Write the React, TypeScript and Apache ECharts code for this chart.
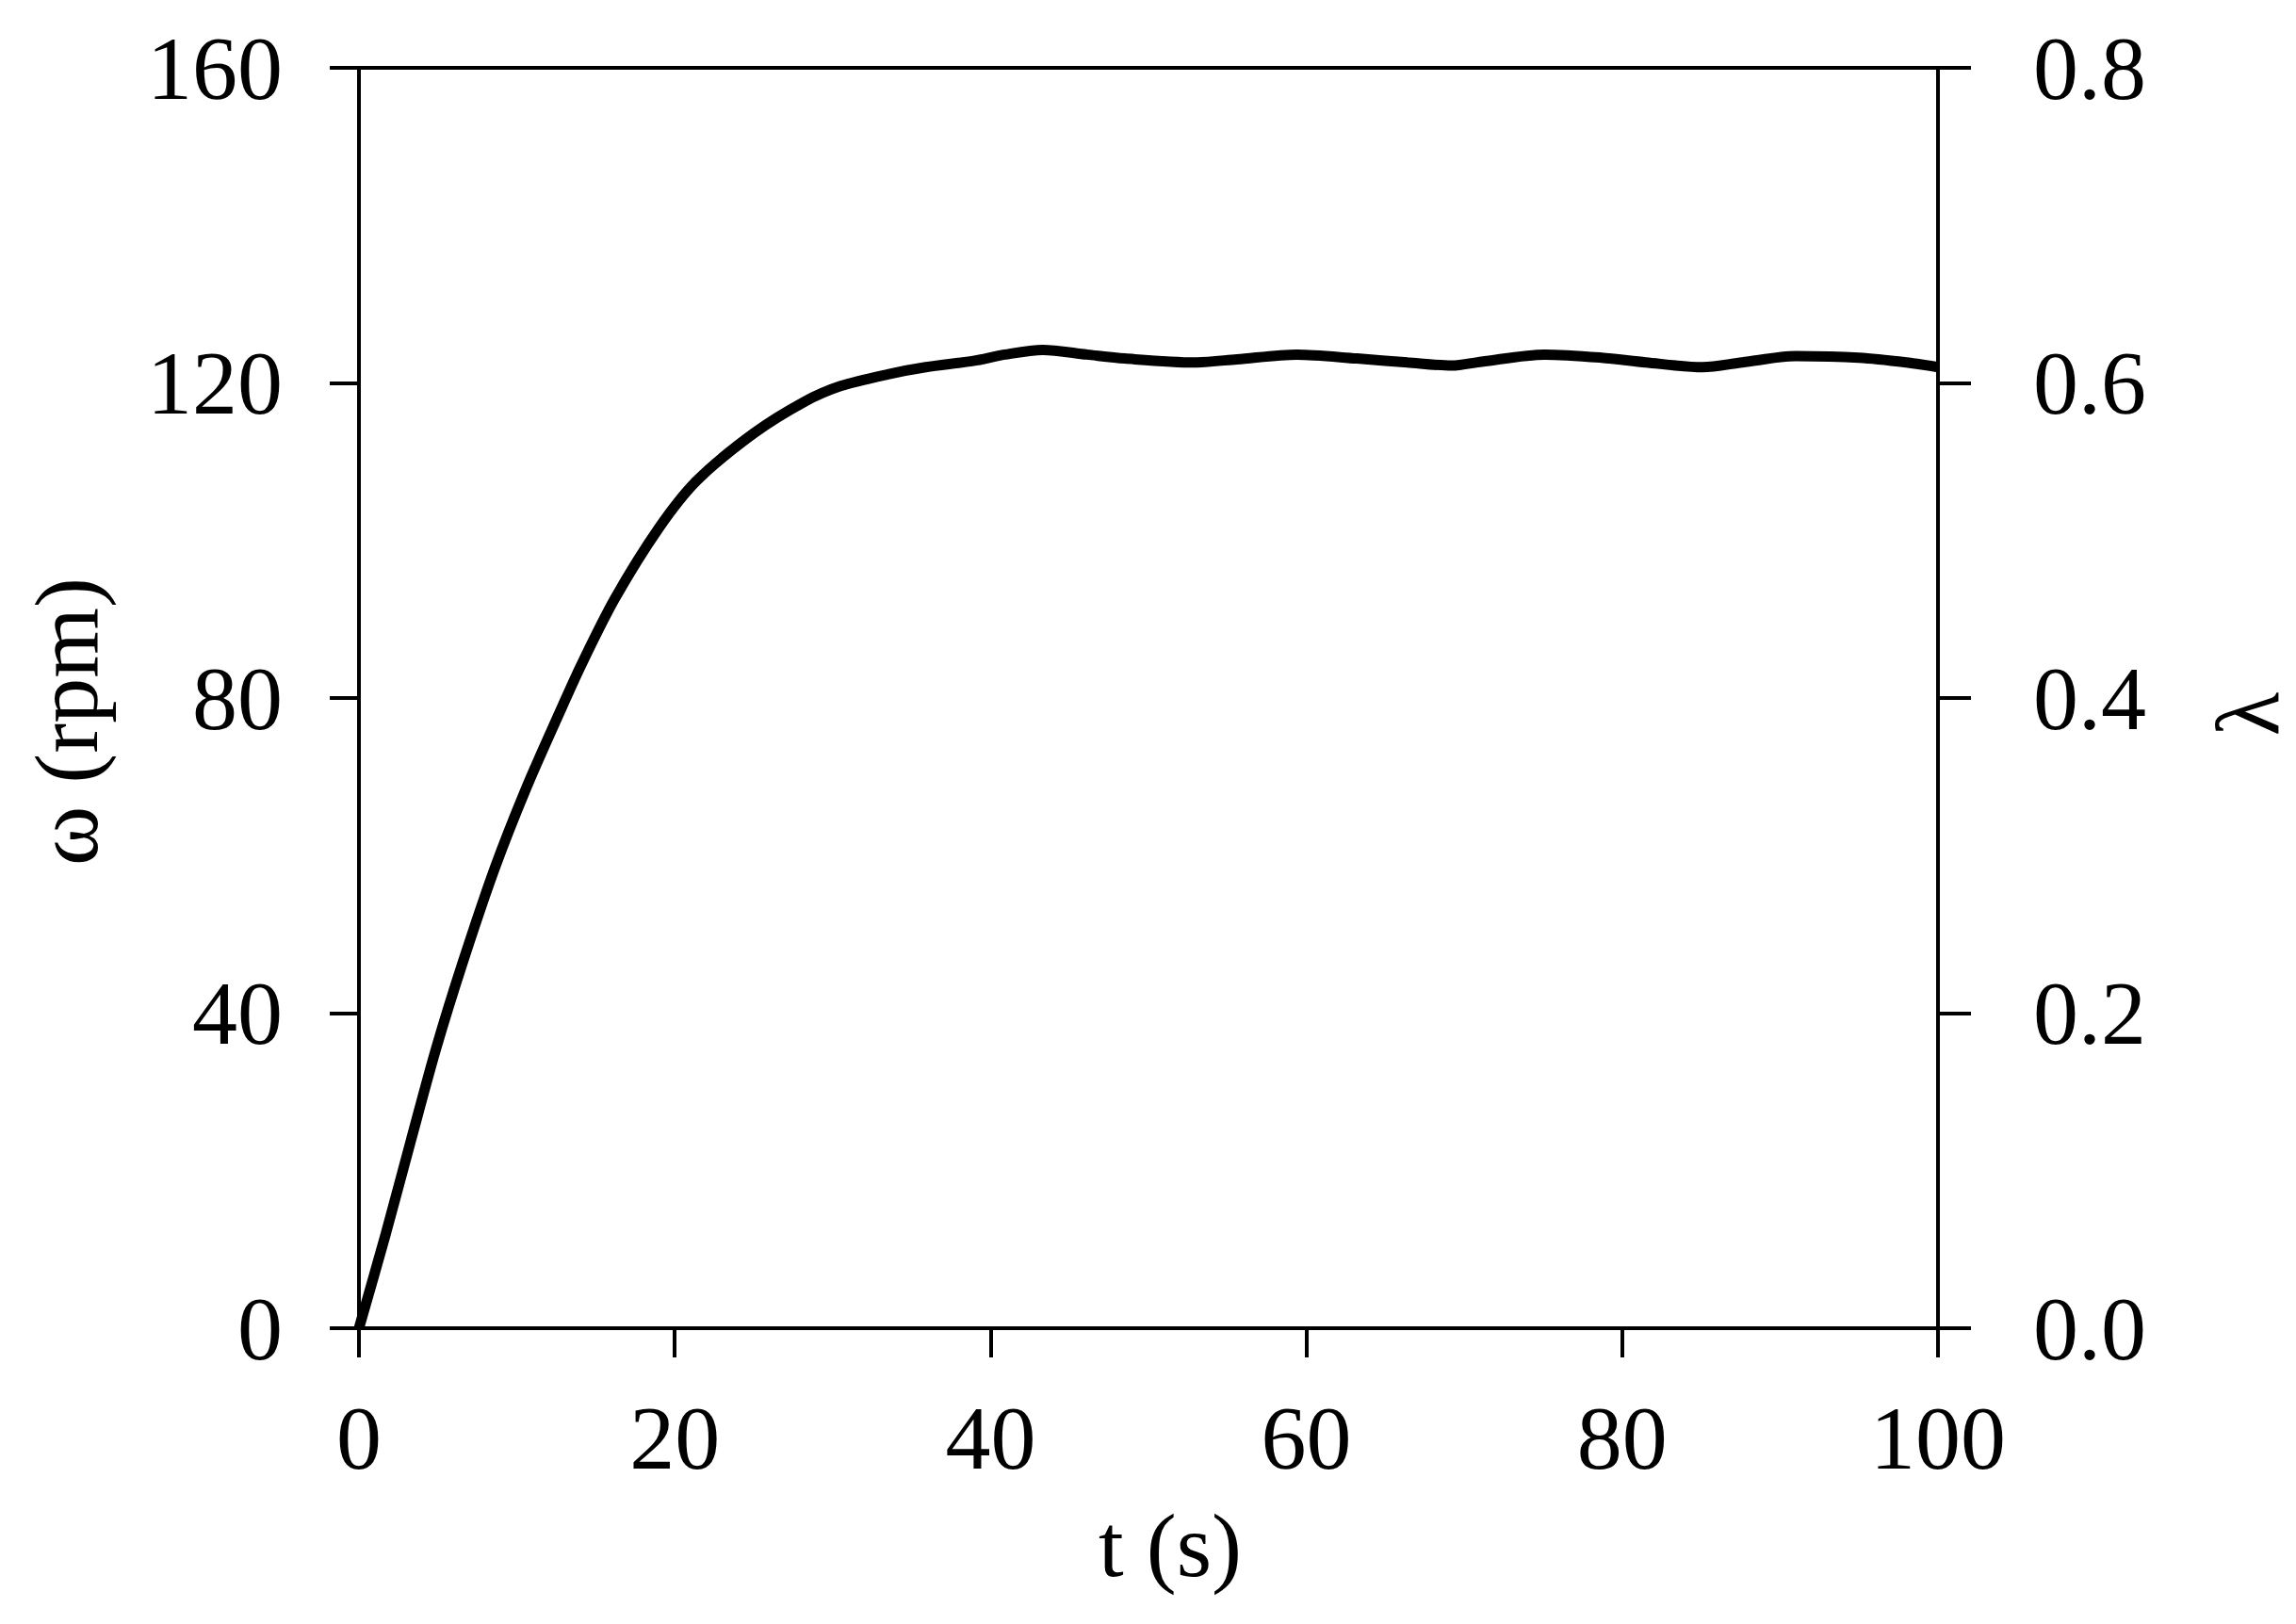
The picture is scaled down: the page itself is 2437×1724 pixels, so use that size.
import React, { useEffect, useRef } from "react";
import * as echarts from "echarts";

// time (s) and rotor speed ω (rpm)
const timeS = [
  0, 1.7, 3.3, 4.9, 6.6, 8.6, 10.6, 12.6, 14.1, 16.2, 19.0, 21.4, 25.0, 28.2,
  30.5, 33.5, 35.9, 38.9, 40.9, 43.3, 46.1, 48.5, 52.9, 55.6, 59.4, 63.2, 66.4,
  69.2, 71.1, 75.1, 78.7, 81.5, 85.1, 87.6, 91.0, 95.0, 98.0, 100,
];
const omegaRpm = [
  0, 12.0, 23.9, 35.6, 46.6, 58.4, 68.6, 77.7, 84.3, 92.6, 101.6, 107.6, 113.6,
  117.6, 119.6, 121.1, 122.0, 122.8, 123.6, 124.2, 123.6, 123.1, 122.6, 123.0,
  123.6, 123.1, 122.6, 122.2, 122.7, 123.6, 123.2, 122.6, 122.0, 122.6, 123.4,
  123.2, 122.6, 122.0,
];

const tRange = [0, 100, 20];
const omegaRange = [0, 160, 40];
const lambdaRange = [0, 0.8, 0.2];

const FONT = "'Liberation Serif', 'Times New Roman', Times, serif";
const FS = 96;
const LW = 4;

const App = () => {
  const chartRef = useRef(null);

  useEffect(() => {
    if (!chartRef.current) return;
    const chart = echarts.init(chartRef.current, null, { renderer: "svg" });

    const axisLine = { show: true, lineStyle: { color: "#000", width: LW } };
    const tick = (len: number) => ({
      show: true,
      inside: false,
      length: len,
      lineStyle: { color: "#000", width: LW },
    });
    const label = (margin: number, fmt?: any) => ({
      show: true,
      margin,
      color: "#000",
      fontFamily: FONT,
      fontSize: FS,
      formatter: fmt,
    });
    const title = (text: string, x: number, y: number, rotation = 0) => ({
      type: "text",
      x,
      y,
      rotation,
      style: {
        text,
        fontFamily: FONT,
        fontSize: FS,
        fill: "#000",
        align: "center",
        verticalAlign: "middle",
      },
    });

    const option = {
      animation: false,
      backgroundColor: "#fff",
      grid: {
        left: 381,
        right: 380,
        top: 72,
        bottom: 314,
        show: true,
        borderColor: "#000",
        borderWidth: LW,
        containLabel: false,
      },
      xAxis: [
        {
          type: "value",
          min: tRange[0],
          max: tRange[1],
          interval: tRange[2],
          position: "bottom",
          axisLine,
          axisTick: tick(31),
          axisLabel: label(68),
          splitLine: { show: false },
        },
      ],
      yAxis: [
        {
          type: "value",
          min: omegaRange[0],
          max: omegaRange[1],
          interval: omegaRange[2],
          position: "left",
          axisLine,
          axisTick: tick(31),
          axisLabel: label(81),
          splitLine: { show: false },
        },
        {
          type: "value",
          min: lambdaRange[0],
          max: lambdaRange[1],
          interval: lambdaRange[2],
          position: "right",
          axisLine,
          axisTick: tick(35),
          axisLabel: label(101, (v: number) => v.toFixed(1)),
          splitLine: { show: false },
        },
      ],
      graphic: [
        title("ω (rpm)", 70, 766, Math.PI / 2),
        title("t (s)", 1242, 1640),
        title("λ", 2385, 758, Math.PI / 2),
      ],
      series: [
        {
          name: "ω",
          type: "line",
          xAxisIndex: 0,
          yAxisIndex: 0,
          data: timeS.map((t, i) => [t, omegaRpm[i]]),
          smooth: 0.3,
          showSymbol: false,
          lineStyle: { color: "#000", width: 11 },
          clip: false,
        },
      ],
    };

    chart.setOption(option);
    return () => chart.dispose();
  }, []);

  return (
    <div
      ref={chartRef}
      style={{ position: "absolute", left: 0, top: 0, width: "2437px", height: "1724px" }}
    />
  );
};

export default App;
